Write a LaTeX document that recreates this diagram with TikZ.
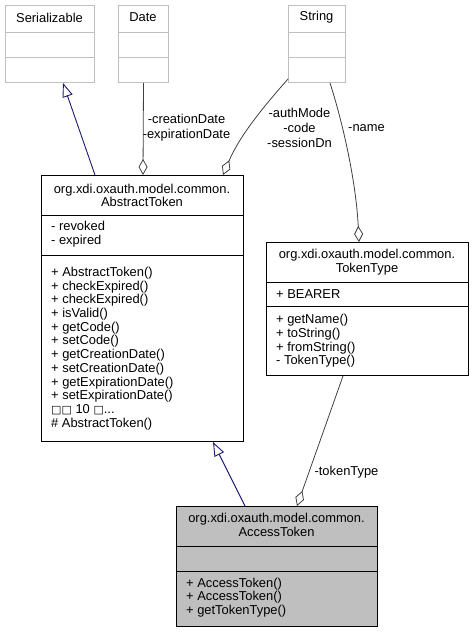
\documentclass[tikz,border=0pt]{standalone}
\usepackage{fontspec}
\setmainfont{Liberation Sans}
\newfontfamily\djv{DejaVu Sans}
\usetikzlibrary{arrows.meta}
\definecolor{boxgray}{HTML}{BFBFBF}
\definecolor{agggray}{HTML}{404040}
\definecolor{inhblue}{HTML}{191970}
\definecolor{accfill}{HTML}{BFBFBF}
\tikzset{
  txt/.style={font=\fontsize{12.9}{13.7}\selectfont, inner sep=0pt, text=black},
  lbl/.style={font=\fontsize{12.9}{14.8}\selectfont, inner sep=0pt, align=center, text=black},
  extbox/.style={draw=boxgray, line width=1pt, fill=white, anchor=north west, inner sep=0pt},
  clsbox/.style={draw=black, line width=1pt, fill=white, anchor=north west, inner sep=0pt},
  curbox/.style={draw=black, line width=1pt, fill=accfill, anchor=north west, inner sep=0pt},
  agg/.style={draw=agggray, line width=0.8pt, -{Diamond[open, length=16pt, width=9pt]}},
  inh/.style={draw=inhblue, line width=0.9pt, -{Triangle[open, length=14pt, width=10.5pt]}}
}
\begin{document}
\begin{tikzpicture}[x=1pt,y=-1pt]
\useasboundingbox (0,0) rectangle (473,632);
% external classes
\node[extbox, minimum width=89pt, minimum height=77pt] (ser) at (5,5) {};
\draw[boxgray, line width=1pt] (5,32) -- (94,32) (5,57) -- (94,57);
\node[txt] (sert) at (49.5,17.5) {Serializable};
\node[extbox, minimum width=50pt, minimum height=77pt] (date) at (118,5) {};
\draw[boxgray, line width=1pt] (118,32) -- (168,32) (118,57) -- (168,57);
\node[txt] (datet) at (143,17.5) {Date};
\node[extbox, minimum width=57pt, minimum height=77pt] (str) at (288,5) {};
\draw[boxgray, line width=1pt] (288,32) -- (345,32) (288,57) -- (345,57);
\node[txt] (strt) at (316.5,17.5) {String};
% AbstractToken
\node[clsbox, minimum width=202pt, minimum height=266pt] (abs) at (41,175) {};
\draw[black, line width=1pt] (41,215) -- (243,215) (41,255) -- (243,255);
\node[txt, align=center] (abst) at (142,195.5) {org.xdi.oxauth.model.common.\\AbstractToken};
\node[txt, align=left, anchor=west] (absa) at (51,234) {- revoked\\- expired};
\node[txt, align=left, anchor=west] (absm) at (51,348.5) {+ AbstractToken()\\+ checkExpired()\\+ checkExpired()\\+ isValid()\\+ getCode()\\+ setCode()\\+ getCreationDate()\\+ setCreationDate()\\+ getExpirationDate()\\+ setExpirationDate()\\{\djv\fontsize{11}{13.7}\selectfont □□} 10 {\djv\fontsize{11}{13.7}\selectfont □}...\\\# AbstractToken()};
% TokenType
\node[clsbox, minimum width=202pt, minimum height=133pt] (tt) at (266,242) {};
\draw[black, line width=1pt] (266,282) -- (468,282) (266,306) -- (468,306);
\node[txt, align=center] (ttt) at (367,262.5) {org.xdi.oxauth.model.common.\\TokenType};
\node[txt, anchor=west] (tta) at (276,294) {+ BEARER};
\node[txt, align=left, anchor=west] (ttm) at (276,341) {+ getName()\\+ toString()\\+ fromString()\\- TokenType()};
% AccessToken
\node[curbox, minimum width=201pt, minimum height=120pt] (acc) at (176,506) {};
\draw[black, line width=1pt] (176,546) -- (377,546) (176,571) -- (377,571);
\node[txt, align=center] (acct) at (276.5,525) {org.xdi.oxauth.model.common.\\AccessToken};
\node[txt, align=left, anchor=west] (accm) at (186,597.5) {+ AccessToken()\\+ AccessToken()\\+ getTokenType()};
% connectors
\draw[inh] ([xshift=54pt]abs.north west) -- ([xshift=58pt]ser.south west);
\draw[agg] (date.south) -- ([xshift=102pt]abs.north west);
\draw[agg] ([yshift=4pt]str.south west) .. controls (265,105) and (240,135) .. ([xshift=182pt]abs.north west);
\draw[agg] ([xshift=42pt]str.south west) .. controls (342,120) and (356,180) .. ([xshift=93pt]tt.north west);
\draw[agg] ([xshift=77pt]tt.south west) -- ([xshift=121pt]acc.north west);
\draw[inh] ([xshift=69pt]acc.north west) -- ([xshift=172pt]abs.south west);
% labels
\node[lbl] (l1) at (186.5,127.5) {-creationDate\\-expirationDate};
\node[lbl] (l2) at (299.5,128) {-authMode\\-code\\-sessionDn};
\node[lbl] (l3) at (366.5,128) {-name};
\node[lbl] (l4) at (346.5,472.5) {-tokenType};
\end{tikzpicture}
\end{document}
